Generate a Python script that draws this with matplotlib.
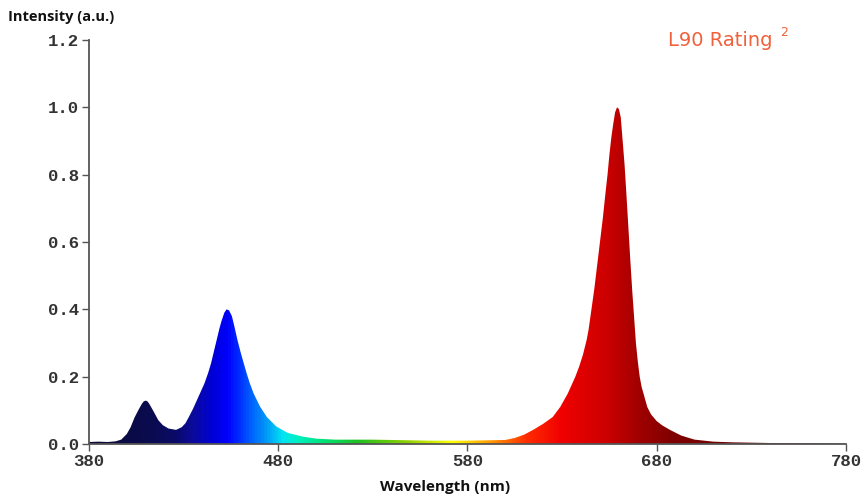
import numpy as np
import matplotlib
matplotlib.use('Agg')
import matplotlib.pyplot as plt
import matplotlib as mpl

# spectrum (wavelength in nm, relative intensity)
wavelength = [380, 385, 390, 394, 397, 400, 402, 404, 406, 408, 409, 410.1, 411, 412, 414, 416.6,
              419, 422, 426, 429, 431, 433, 435, 437, 439, 441, 443, 444.5, 446, 447.5, 449,
              450, 451.5, 452.7, 454, 455.5, 457, 458.4, 460, 461.5, 463.3, 465, 467, 470.4,
              474, 479, 485, 493, 500, 510, 520, 530, 540, 550, 560, 570, 580, 590, 600, 605,
              610, 615, 620, 625, 629, 633, 637, 639, 641, 643, 644, 645.5, 647, 648.5, 650,
              651.5, 653, 654, 655, 656, 657, 658, 659, 660, 661, 662, 663, 664, 665, 666, 667,
              668, 669, 670, 671, 672, 673, 675, 677, 680, 683, 687, 693, 700, 710, 720, 740,
              760, 780]
intensity = [0.006, 0.007, 0.006, 0.008, 0.013, 0.03, 0.05, 0.078, 0.1, 0.12, 0.127, 0.129, 0.126,
             0.118, 0.098, 0.071, 0.056, 0.046, 0.042, 0.05, 0.062, 0.083, 0.105, 0.13, 0.155,
             0.18, 0.212, 0.24, 0.275, 0.31, 0.345, 0.365, 0.39, 0.40, 0.397, 0.38, 0.345, 0.31,
             0.275, 0.245, 0.21, 0.18, 0.15, 0.111, 0.08, 0.052, 0.033, 0.022, 0.016, 0.013,
             0.013, 0.013, 0.012, 0.011, 0.01, 0.01, 0.01, 0.011, 0.012, 0.018, 0.028, 0.043,
             0.06, 0.08, 0.11, 0.15, 0.2, 0.23, 0.265, 0.31, 0.34, 0.40, 0.46, 0.53, 0.6, 0.67,
             0.75, 0.80, 0.86, 0.91, 0.95, 0.985, 1.0, 0.995, 0.97, 0.9, 0.83, 0.74, 0.645, 0.55,
             0.46, 0.38, 0.3, 0.245, 0.2, 0.17, 0.15, 0.11, 0.088, 0.068, 0.055, 0.042, 0.025,
             0.013, 0.007, 0.005, 0.003, 0.002, 0.001]

x_ticks = [380, 480, 580, 680, 780]
y_ticks = [0.0, 0.2, 0.4, 0.6, 0.8, 1.0, 1.2]

# colour of the fill along the wavelength axis
grad_nm = [380, 412, 425, 435, 445, 453, 463, 474, 482, 490, 505, 522, 548, 572, 592, 612, 630,
           654, 671, 689, 780]
grad_col = ['#0c0c38', '#0a0a50', '#0a0a68', '#0a0aa0', '#0000d8', '#0000ff', '#0050ff', '#00a0f8',
            '#00e4f4', '#00f0c0', '#00e070', '#20c020', '#90d000', '#ffff00', '#ff9a00', '#ff2a00',
            '#f00000', '#cc0000', '#a00000', '#800000', '#500000']

wl = np.array(wavelength)
it = np.array(intensity)

fig = plt.figure(figsize=(8.65, 4.98), dpi=100)
ax = fig.add_axes([0.1029, 0.1084, 0.8751, 0.8113])

pos = [(w - 380) / 400 for w in grad_nm]
cmap = mpl.colors.LinearSegmentedColormap.from_list('spec', list(zip(pos, grad_col)))
grad = np.linspace(0, 1, 800).reshape(1, -1)
img = ax.imshow(grad, cmap=cmap, aspect='auto', extent=[380, 780, 0, 1.2],
                origin='lower', interpolation='bilinear', zorder=1)
poly = ax.fill_between(wl, 0, it, facecolor='none', edgecolor='none')
clip = poly.get_paths()[0]
img.set_clip_path(clip, transform=ax.transData)

ax.set_xlim(380, 780)
ax.set_ylim(0, 1.2)
ax.set_xticks(x_ticks)
ax.set_yticks(y_ticks)
ax.set_yticklabels(['%.1f' % v for v in y_ticks])

for s in ['top', 'right']:
    ax.spines[s].set_visible(False)
for s in ['left', 'bottom']:
    ax.spines[s].set_color('#555555')
    ax.spines[s].set_linewidth(1.3)
ax.spines['bottom'].set_zorder(3)

ax.tick_params(axis='both', direction='out', length=5, width=1, color='#555555',
               labelcolor='#333333', labelsize=12.5, pad=2)
for lab in ax.get_xticklabels() + ax.get_yticklabels():
    lab.set_family('Liberation Mono')
    lab.set_weight('bold')

fig.text(0.009, 0.965, 'Intensity (a.u.)', fontsize=10.5, fontweight='bold',
         family='Open Sans', color='#111111', ha='left', va='center')
fig.text(0.515, 0.022, 'Wavelength (nm)', fontsize=11, fontweight='bold',
         family='Open Sans', color='#111111', ha='center', va='center')
fig.text(0.772, 0.918, 'L90 Rating', fontsize=14, color='#f0603a', family='DejaVu Sans',
         ha='left', va='center')
fig.text(0.902, 0.934, '2', fontsize=9, color='#f0603a', family='DejaVu Sans',
         ha='left', va='center')

fig.savefig('out.png', dpi=100)
